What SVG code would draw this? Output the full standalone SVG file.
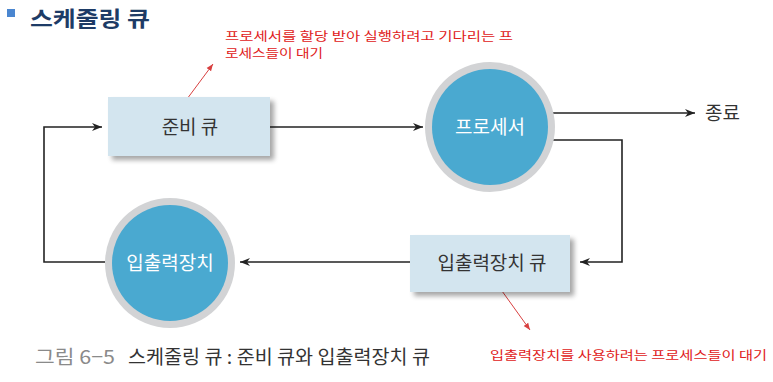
<svg xmlns="http://www.w3.org/2000/svg" width="773" height="382" viewBox="0 0 773 382">
<defs>
<style>
.t{font-family:"Noto Sans CJK KR","Noto Sans",sans-serif}
.box{fill:#d3e5ef}
.shadow{fill:#000;opacity:0.35}
.ring{fill:#d2d3d5}
.core{fill:#4aa9d0}
.conn{fill:none;stroke:#222;stroke-width:1.6}
.red{fill:none;stroke:#d84040;stroke-width:1}
.lbl{font-size:19px;fill:#333;text-anchor:middle}
.wl{font-size:19px;fill:#fff;text-anchor:middle}
.note{font-size:12px;fill:#e02020}
</style>
<marker id="ah" viewBox="0 0 10 10" refX="10" refY="5" markerWidth="10" markerHeight="10" markerUnits="userSpaceOnUse" orient="auto">
<path d="M0,1 L10,5 L0,9 L3,5 Z" fill="#222"/>
</marker>
<marker id="rh" viewBox="0 0 10 10" refX="10" refY="5" markerWidth="7" markerHeight="7" markerUnits="userSpaceOnUse" orient="auto">
<path d="M0,1 L10,5 L0,9 Z" fill="#d84040"/>
</marker>
<filter id="blur" x="-20%" y="-20%" width="140%" height="140%"><feGaussianBlur stdDeviation="2.5"/></filter>
</defs>
<rect width="773" height="382" fill="#fff"/>
<g id="title">
<rect x="7" y="9" width="8" height="8" fill="#4a86d0"/>
<text class="t" x="30" y="26" font-size="21" font-weight="bold" fill="#1d3b66" textLength="120" lengthAdjust="spacingAndGlyphs">스케줄링 큐</text>
</g>
<g id="connectors">
<polyline class="conn" points="105,262 44,262 44,127 102,127" marker-end="url(#ah)"/>
<line class="conn" x1="270" y1="127" x2="423" y2="127" marker-end="url(#ah)"/>
<line class="conn" x1="553" y1="113" x2="695" y2="113" marker-end="url(#ah)"/>
<polyline class="conn" points="551,140 622,140 622,262 580,262" marker-end="url(#ah)"/>
<line class="conn" x1="410" y1="262" x2="240" y2="262" marker-end="url(#ah)"/>
<line class="red" x1="187" y1="99" x2="213" y2="64" marker-end="url(#rh)"/>
<line class="red" x1="502" y1="291" x2="530" y2="330" marker-end="url(#rh)"/>
</g>
<g id="ready-queue">
<rect class="shadow" x="112" y="101" width="162" height="59" filter="url(#blur)"/>
<rect class="box" x="108" y="97" width="162" height="59"/>
<text class="t lbl" x="190" y="134">준비 큐</text>
</g>
<g id="processor">
<circle class="ring" cx="490" cy="127" r="65"/>
<circle class="core" cx="490" cy="127" r="58"/>
<text class="t wl" x="490" y="134">프로세서</text>
</g>
<g id="end">
<text class="t" x="705" y="120" font-size="19" fill="#333">종료</text>
</g>
<g id="io-queue">
<rect class="shadow" x="414" y="239" width="160" height="57" filter="url(#blur)"/>
<rect class="box" x="410" y="235" width="160" height="57"/>
<text class="t lbl" x="492" y="270">입출력장치 큐</text>
</g>
<g id="io-device">
<circle class="ring" cx="170" cy="263" r="65"/>
<circle class="core" cx="170" cy="263" r="58"/>
<text class="t wl" x="170" y="270">입출력장치</text>
</g>
<g id="notes">
<text class="t note" x="225" y="41" textLength="288" lengthAdjust="spacingAndGlyphs">프로세서를 할당 받아 실행하려고 기다리는 프</text>
<text class="t note" x="225" y="58" textLength="98" lengthAdjust="spacingAndGlyphs">로세스들이 대기</text>
<text class="t note" x="490" y="360" textLength="277" lengthAdjust="spacingAndGlyphs">입출력장치를 사용하려는 프로세스들이 대기</text>
</g>
<g id="caption">
<text class="t" x="35" y="364" font-size="19" fill="#8a8a8a" textLength="80" lengthAdjust="spacingAndGlyphs">그림 6−5</text>
<text class="t" x="128" y="364" font-size="19" fill="#333" textLength="302" lengthAdjust="spacingAndGlyphs">스케줄링 큐 : 준비 큐와 입출력장치 큐</text>
</g>
</svg>
